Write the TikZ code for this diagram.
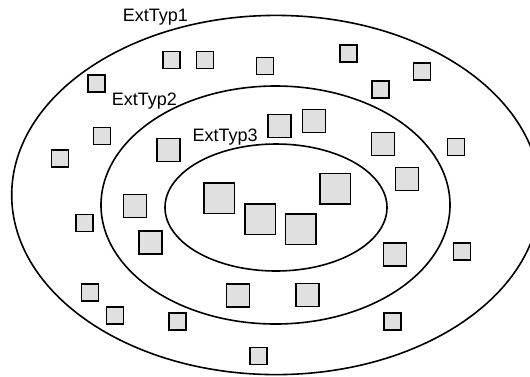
\documentclass[tikz,border=0pt]{standalone}
\usepackage{fontspec}
\setmainfont{Liberation Sans}
\definecolor{boxfill}{RGB}{224,224,224}
\begin{document}
\begin{tikzpicture}[x=1pt,y=-1pt,
  ring/.style={draw=black,line width=1.6pt},
  sq/.style={draw=black,fill=boxfill,line width=1.5pt,inner sep=0pt,outer sep=0pt},
  sqs/.style={sq,minimum size=17pt},
  sqm/.style={sq,minimum size=23pt},
  sql/.style={sq,minimum size=30.5pt},
  lbl/.style={anchor=base west,inner sep=0pt,font=\fontsize{18}{21}\selectfont}]
\useasboundingbox (0,0) rectangle (530,376);
\begin{scope}
\clip (0,0) rectangle (530,376);
\draw[ring] (276,195) ellipse [x radius=264.3, y radius=179.6];
\end{scope}
\draw[ring] (275.5,205) ellipse [x radius=174.5, y radius=119];
\draw[ring] (276,207.5) ellipse [x radius=111, y radius=63.5];
% labels
\node[lbl] (t1) at (122.7,21.7) {ExtTyp1};
\node[lbl] (t2) at (111.7,105) {ExtTyp2};
\node[lbl] (t3) at (192.3,141.7) {ExtTyp3};
% small squares
\node[sqs] (s1) at (171.5,60) {};
\node[sqs] (s2) at (205,60) {};
\node[sqs] (s3) at (265,66) {};
\node[sqs] (s4) at (348.5,53.5) {};
\node[sqs] (s5) at (422,71.5) {};
\node[sqs] (s6) at (380.5,89.5) {};
\node[sqs] (s7) at (96.5,83.5) {};
\node[sqs] (s8) at (102,136) {};
\node[sqs] (s9) at (60,158.5) {};
\node[sqs] (s10) at (456,147) {};
\node[sqs] (s11) at (84.5,223) {};
\node[sqs] (s12) at (462,251.5) {};
\node[sqs] (s13) at (90,292.5) {};
\node[sqs] (s14) at (115,315.5) {};
\node[sqs] (s15) at (177.5,321.5) {};
\node[sqs] (s16) at (392.5,321.5) {};
\node[sqs] (s17) at (258.5,356) {};
% medium squares
\node[sqm] (m1) at (168.5,150) {};
\node[sqm] (m2) at (279.5,126) {};
\node[sqm] (m3) at (314,121) {};
\node[sqm] (m4) at (383,144) {};
\node[sqm] (m5) at (407,179) {};
\node[sqm] (m6) at (135,206) {};
\node[sqm] (m7) at (150.5,242.5) {};
\node[sqm] (m8) at (395,254.5) {};
\node[sqm] (m9) at (238,295.5) {};
\node[sqm] (m10) at (307.5,295) {};
% large squares
\node[sql] (l1) at (219,198) {};
\node[sql] (l2) at (335,188.5) {};
\node[sql] (l3) at (260,219) {};
\node[sql] (l4) at (300.5,229) {};
\end{tikzpicture}
\end{document}
